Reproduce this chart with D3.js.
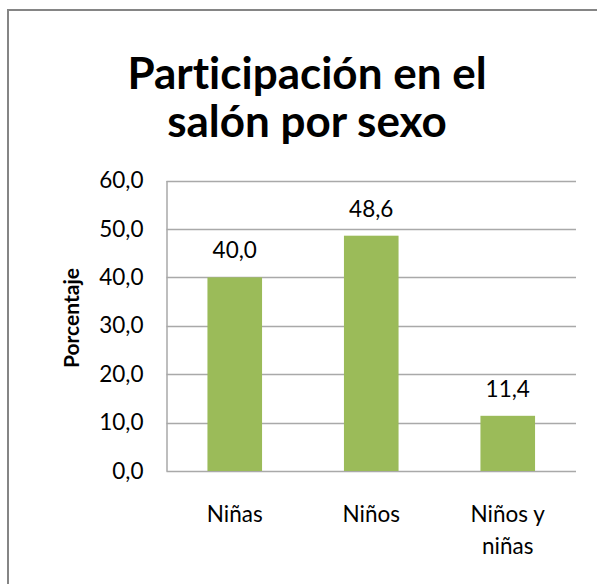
<!DOCTYPE html>
<html>
<head>
<meta charset="utf-8">
<script src="https://cdn.jsdelivr.net/npm/d3@7"></script>
<style>
  html, body { margin: 0; padding: 0; background: #fff; }
  text { font-family: Lato, "Open Sans", sans-serif; fill: #000; font-variant-ligatures: none; }
</style>
</head>
<body>
<div id="chart"></div>
<script>
// data
const categories = [["Niñas"], ["Niños"], ["Niños y", "niñas"]];
const values     = [40.0, 48.6, 11.4];
const yTicks     = [0, 10, 20, 30, 40, 50, 60];
const titleLines = ["Participación en el", "salón por sexo"];
const yLabel     = "Porcentaje";

drawChart();

function drawChart() {
  let width   = 597,
    height    = 584,
    plotLeft  = 166.5,
    plotRight = 576,
    plotTop   = 180.5,
    plotBot   = 471,
    barColor  = "#9bbb59",
    gridColor = "#a9a9a9",
    fmt       = d => d.toFixed(1).replace(".", ","),
    svg       = d3.select("#chart").append("svg")
                  .attr("width", width)
                  .attr("height", height);

  let x = d3.scaleBand()
    .domain(d3.range(values.length))
    .range([plotLeft, plotRight])
    .paddingInner(0.6)
    .paddingOuter(0.3);

  let y = d3.scaleLinear()
    .domain([0, 60])
    .range([plotBot, plotTop]);

  // chart area frame (only top/left visible in the crop)
  svg.append("rect")
    .attr("x", 8).attr("y", 10)
    .attr("width", 700).attr("height", 700)
    .attr("fill", "none")
    .attr("stroke", "#858585")
    .attr("stroke-width", 2);

  // title
  svg.append("g").selectAll("text")
    .data(titleLines)
    .join("text")
      .attr("x", 307)
      .attr("y", (d, i) => 89 + i * 48)
      .attr("text-anchor", "middle")
      .style("font-size", "44px")
      .style("font-weight", "bold")
      .text(d => d);

  // gridlines
  svg.append("g").selectAll("line")
    .data(yTicks)
    .join("line")
      .attr("x1", plotLeft).attr("x2", plotRight)
      .attr("y1", d => Math.round(y(d)) + 0.5)
      .attr("y2", d => Math.round(y(d)) + 0.5)
      .attr("stroke", gridColor)
      .attr("stroke-width", 1.5);

  // y axis
  let yAxis = svg.append("g")
    .attr("transform", "translate(" + plotLeft + ",0)")
    .call(d3.axisLeft(y).tickValues(yTicks).tickSize(0).tickPadding(23).tickFormat(fmt));
  yAxis.select(".domain").attr("stroke", gridColor).attr("stroke-width", 1.5);
  yAxis.selectAll("text")
    .style("font-family", "Lato, sans-serif")
    .style("font-size", "22.5px")
    .attr("fill", "#000");

  svg.append("text")
    .attr("transform", "translate(79,318) rotate(-90)")
    .attr("text-anchor", "middle")
    .style("font-size", "21px")
    .style("font-weight", "bold")
    .text(yLabel);

  // bars
  svg.append("g").selectAll("rect")
    .data(values)
    .join("rect")
      .attr("x", (d, i) => x(i))
      .attr("width", x.bandwidth())
      .attr("y", d => y(d))
      .attr("height", d => y(0) - y(d))
      .attr("fill", barColor);

  // value labels
  svg.append("g").selectAll("text")
    .data(values)
    .join("text")
      .attr("x", (d, i) => x(i) + x.bandwidth() / 2)
      .attr("y", d => y(d) - 19)
      .attr("text-anchor", "middle")
      .style("font-size", "22.5px")
      .text(fmt);

  // category labels
  let cat = svg.append("g").selectAll("text")
    .data(categories)
    .join("text")
      .attr("x", (d, i) => x(i) + x.bandwidth() / 2)
      .attr("y", 522)
      .attr("text-anchor", "middle")
      .style("font-size", "22.5px");
  cat.selectAll("tspan")
    .data(d => d)
    .join("tspan")
      .attr("x", function() { return this.parentNode.getAttribute("x"); })
      .attr("dy", (d, i) => i === 0 ? 0 : 32)
      .text(d => d);
}
</script>
</body>
</html>
